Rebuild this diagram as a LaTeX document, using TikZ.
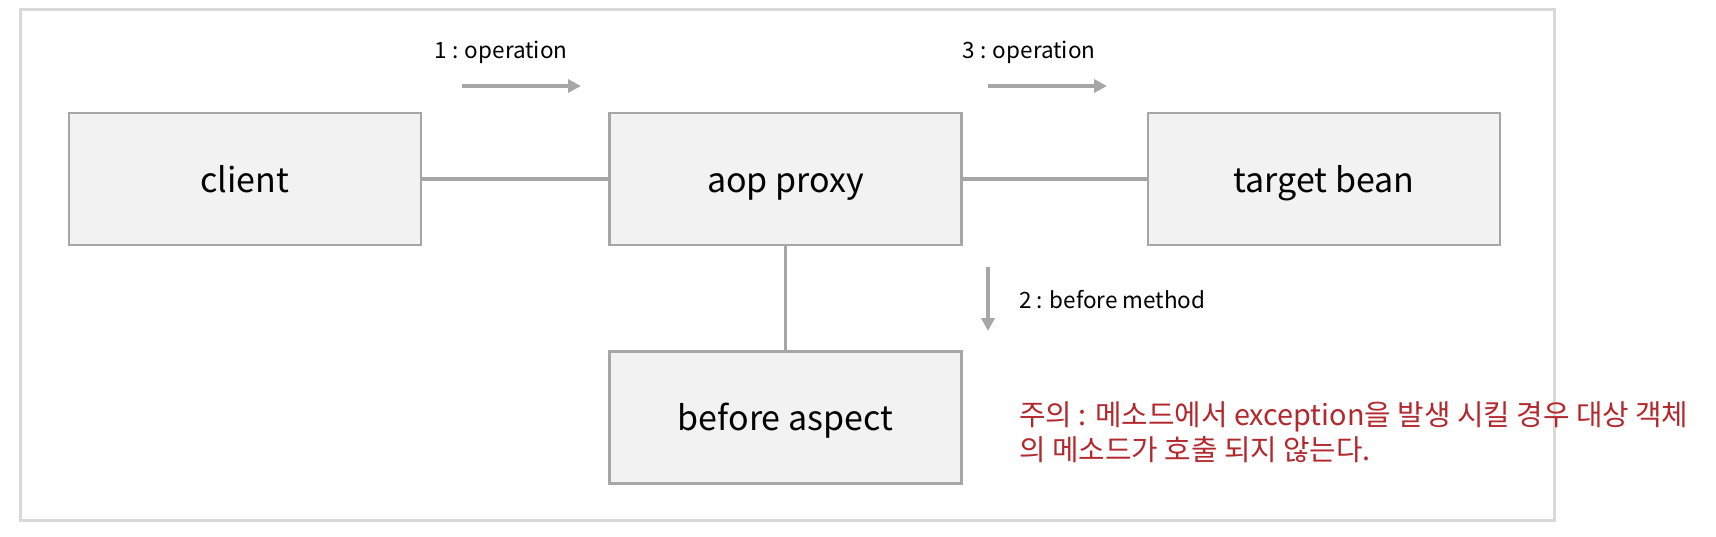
\documentclass[tikz,border=0pt]{standalone}
\usepackage{fontspec}
\setmainfont{Noto Sans CJK KR}
\usetikzlibrary{arrows.meta}
\definecolor{boxfill}{HTML}{F2F2F2}
\definecolor{boxline}{HTML}{A6A6A6}
\definecolor{framegray}{HTML}{D9D9D9}
\definecolor{notered}{HTML}{B3282D}
\tikzset{
    box/.style={draw=boxline, fill=boxfill, line width=2.5pt, minimum width=352pt, minimum height=132pt, inner sep=0pt, text height=30pt, text depth=4pt, font=\fontsize{34}{40}\selectfont},
    link/.style={draw=boxline, line width=3.5pt},
    flow/.style={draw=boxline, line width=3.5pt, -{Triangle[length=13pt,width=13pt]}},
    steplabel/.style={font=\fontsize{22.5}{26}\selectfont, inner sep=0pt}
}

\begin{document}
\begin{tikzpicture}[x=1pt,y=-1pt]
                \useasboundingbox (0,0) rectangle (1716,536);
                \draw[framegray, line width=3pt] (20,9) rectangle (1554,520);
                \node[box] (client) at (245,179) {client};
                \node[box] (proxy) at (785.5,179) {aop proxy};
                \node[box] (target) at (1324,179) {target bean};
                \node[box] (aspect) at (785.5,417.5) {before aspect};
                \draw[link] (client) -- (proxy);
                \draw[link] (proxy) -- (target);
                \draw[link] (proxy) -- (aspect);
                \coordinate (op1s) at (462,86);
                \coordinate (op1e) at (581,86);
                \coordinate (op3s) at (988,86);
                \coordinate (op3e) at (1107,86);
                \coordinate (op2s) at (988,267);
                \coordinate (op2e) at (988,331);
                \draw[flow] (op1s) -- (op1e);
                \draw[flow] (op3s) -- (op3e);
                \draw[flow] (op2s) -- (op2e);
                \node[steplabel] (op1) at (501,52) {1 : operation};
                \node[steplabel] (op3) at (1029,52) {3 : operation};
                \node[steplabel, anchor=west] (op2) at (1019,300) {2 : before method};
                \node[anchor=west, align=left, inner sep=0pt, text=notered, font=\fontsize{28.8}{35}\selectfont] (note) at (1019,432.5) {주의 : 메소드에서 exception을 발생 시킬 경우 대상 객체\\의 메소드가 호출 되지 않는다.};
            \end{tikzpicture}
\end{document}
